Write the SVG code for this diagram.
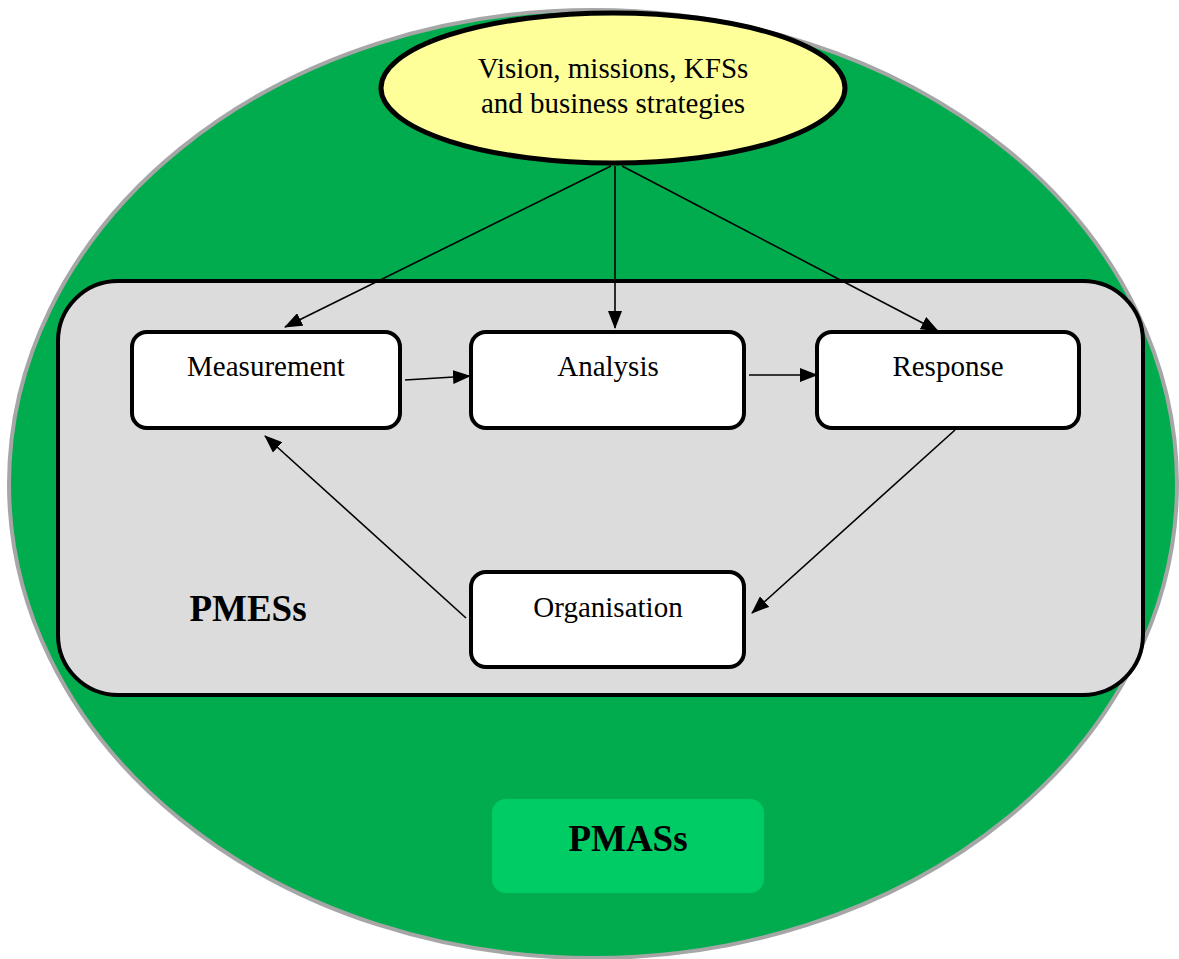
<svg xmlns="http://www.w3.org/2000/svg" width="1179" height="959" viewBox="0 0 1179 959">
  <defs>
    <marker id="arrow" markerWidth="18" markerHeight="14" refX="17" refY="7" orient="auto" markerUnits="userSpaceOnUse">
      <path d="M0,0 L18,7 L0,14 Z" fill="#000"/>
    </marker>
  </defs>
  <style>
    .label { font-family: "Liberation Serif", "Times New Roman", serif; font-size: 29px; fill: #000; text-anchor: middle; }
    .title { font-family: "Liberation Serif", "Times New Roman", serif; font-weight: bold; font-size: 37px; fill: #000; text-anchor: middle; }
    .step { fill: #fff; stroke: #000; stroke-width: 4; }
    .conn { stroke: #000; stroke-width: 1.6; fill: none; marker-end: url(#arrow); }
  </style>

  <!-- outer system: PMASs -->
  <g id="pmas-system">
    <ellipse cx="593" cy="484" rx="584" ry="474" fill="#00ac4e" stroke="#a6a6a6" stroke-width="4"/>
  </g>

  <!-- inner system: PMESs -->
  <g id="pmes-system">
    <rect x="58" y="281" width="1085" height="414" rx="60" ry="60" fill="#dcdcdc" stroke="#000" stroke-width="4"/>
    <text class="title" x="248" y="621">PMESs</text>
  </g>

  <g id="vision">
    <ellipse cx="613" cy="88" rx="232" ry="75" fill="#ffff99" stroke="#000" stroke-width="5"/>
    <text class="label" x="613" y="78" font-size="30">Vision, missions, KFSs</text>
    <text class="label" x="613" y="113" font-size="30">and business strategies</text>
  </g>

  <g id="measurement">
    <rect class="step" x="132" y="332" width="268" height="96" rx="15" ry="15"/>
    <text class="label" x="266" y="376">Measurement</text>
  </g>

  <g id="analysis">
    <rect class="step" x="471" y="332" width="273" height="96" rx="15" ry="15"/>
    <text class="label" x="608" y="376">Analysis</text>
  </g>

  <g id="response">
    <rect class="step" x="817" y="332" width="262" height="96" rx="15" ry="15"/>
    <text class="label" x="948" y="376">Response</text>
  </g>

  <g id="organisation">
    <rect class="step" x="471" y="572" width="273" height="95" rx="15" ry="15"/>
    <text class="label" x="608" y="617">Organisation</text>
  </g>

  <g id="pmas-label">
    <rect x="492" y="799" width="272" height="94" rx="14" ry="14" fill="#00cc66"/>
    <text class="title" x="628" y="851">PMASs</text>
  </g>

  <g id="connectors">
    <line class="conn" x1="611" y1="166" x2="285" y2="327"/>
    <line class="conn" x1="615" y1="166" x2="615" y2="328"/>
    <line class="conn" x1="622" y1="166" x2="938" y2="331"/>
    <line class="conn" x1="405" y1="380" x2="470" y2="376"/>
    <line class="conn" x1="749" y1="375" x2="817" y2="375"/>
    <line class="conn" x1="955" y1="430" x2="752" y2="613"/>
    <line class="conn" x1="466" y1="618" x2="265" y2="436"/>
  </g>
</svg>
